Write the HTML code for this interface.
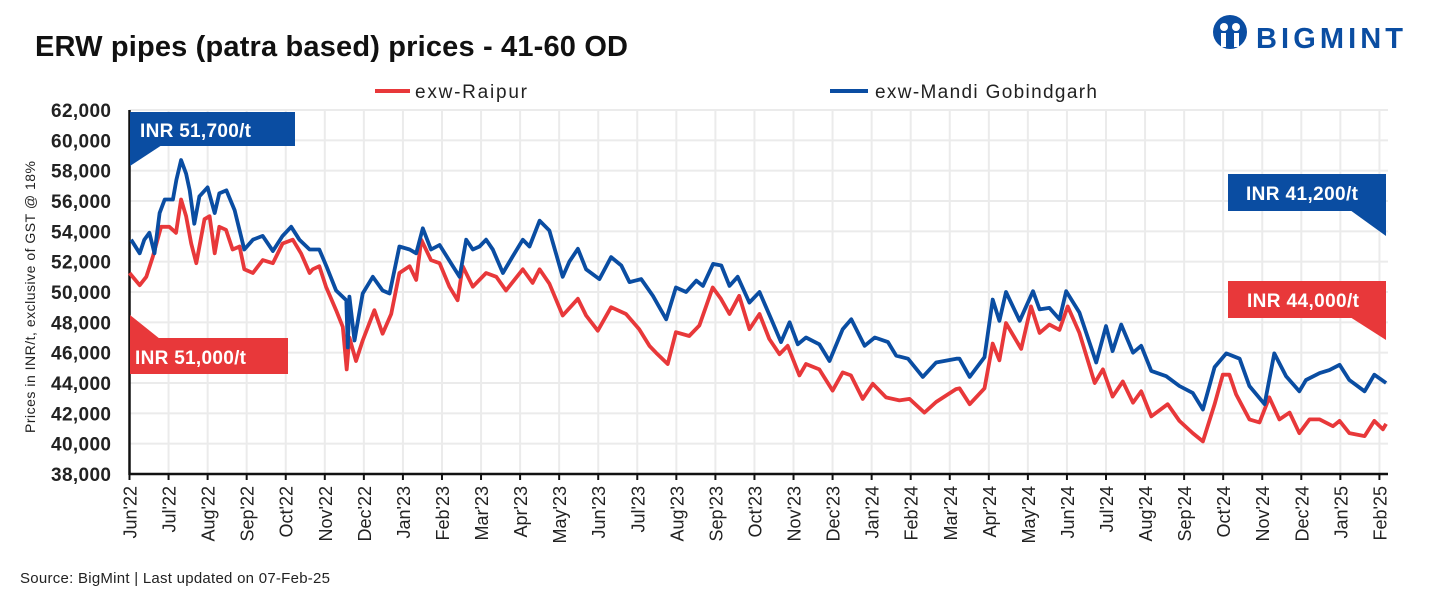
<!DOCTYPE html>
<html><head><meta charset="utf-8"><style>
body{margin:0;background:#fff;width:1430px;height:597px;overflow:hidden;font-family:"Liberation Sans",sans-serif}
</style></head><body>
<svg id="chart" width="1430" height="597" xmlns="http://www.w3.org/2000/svg" font-family="Liberation Sans, sans-serif">
<text x="35" y="56" font-size="29" font-weight="bold" fill="#111" textLength="593">ERW pipes (patra based) prices - 41-60 OD</text>
<g>
<circle cx="1230" cy="32" r="17" fill="#0a4da2"/>
<circle cx="1224" cy="27" r="4" fill="#fff"/><circle cx="1236" cy="27" r="4" fill="#fff"/>
<rect x="1221" y="33" width="5" height="14" fill="#fff"/><rect x="1234" y="33" width="5" height="14" fill="#fff"/>
<text x="1256" y="48" font-size="29" font-weight="bold" fill="#0a4da2" textLength="147">BIGMINT</text>
</g>
<g>
<line x1="375" y1="91" x2="410" y2="91" stroke="#e8383a" stroke-width="4"/>
<text x="415" y="98" font-size="19" fill="#222" textLength="112">exw-Raipur</text>
<line x1="830" y1="91" x2="868" y2="91" stroke="#0a4da2" stroke-width="4"/>
<text x="875" y="98" font-size="19" fill="#222" textLength="222">exw-Mandi Gobindgarh</text>
</g>
<g id="grid"></g>
<g id="axes"></g>
<g id="series"></g>
<g>
<g>
<rect x="130" y="112" width="165" height="34" fill="#0a4da2"/><polygon points="130,145 130,166 162,145" fill="#0a4da2"/>
<text x="140" y="137" font-size="19" font-weight="bold" fill="#fff" textLength="111">INR 51,700/t</text></g>
<g>
<polygon points="130,315 130,339 160,339" fill="#e8383a"/><rect x="130" y="338" width="158" height="36" fill="#e8383a"/>
<text x="135" y="364" font-size="19" font-weight="bold" fill="#fff" textLength="111">INR 51,000/t</text></g>
<g>
<rect x="1228" y="174" width="158" height="37" fill="#0a4da2"/><polygon points="1386,210 1386,236 1350,210" fill="#0a4da2"/>
<text x="1246" y="200" font-size="19" font-weight="bold" fill="#fff" textLength="112">INR 41,200/t</text></g>
<g>
<rect x="1228" y="281" width="158" height="37" fill="#e8383a"/><polygon points="1386,317 1386,340 1350,317" fill="#e8383a"/>
<text x="1247" y="307" font-size="19" font-weight="bold" fill="#fff" textLength="112">INR 44,000/t</text></g>
</g>
<text transform="translate(35,297) rotate(-90)" text-anchor="middle" font-size="14" fill="#222" textLength="272">Prices in INR/t, exclusive of GST @ 18%</text>
<text x="20" y="583" font-size="15" fill="#222" textLength="310">Source: BigMint  | Last updated on 07-Feb-25</text>
</svg>
<script>
const months=["Jun'22","Jul'22","Aug'22","Sep'22","Oct'22","Nov'22","Dec'22","Jan'23","Feb'23","Mar'23","Apr'23","May'23","Jun'23","Jul'23","Aug'23","Sep'23","Oct'23","Nov'23","Dec'23","Jan'24","Feb'24","Mar'24","Apr'24","May'24","Jun'24","Jul'24","Aug'24","Sep'24","Oct'24","Nov'24","Dec'24","Jan'25","Feb'25"];
const yTicks=[38000,40000,42000,44000,46000,48000,50000,52000,54000,56000,58000,60000,62000];
const mandiDates=[0.04,0.26,0.38,0.51,0.64,0.77,0.90,1.11,1.20,1.32,1.45,1.54,1.66,1.79,2.00,2.18,2.30,2.48,2.69,2.94,3.16,3.41,3.67,3.92,4.14,4.35,4.61,4.86,5.04,5.29,5.55,5.59,5.63,5.76,5.97,6.23,6.48,6.66,6.91,7.17,7.34,7.51,7.72,7.94,8.28,8.45,8.62,8.79,8.96,9.13,9.30,9.56,9.81,10.07,10.24,10.50,10.75,11.09,11.26,11.48,11.69,12.03,12.33,12.59,12.80,13.10,13.40,13.74,13.99,14.25,14.51,14.68,14.94,15.15,15.36,15.57,15.87,16.13,16.43,16.68,16.90,17.11,17.32,17.66,17.92,18.26,18.48,18.82,19.08,19.42,19.63,19.93,20.31,20.65,21.17,21.25,21.51,21.89,22.10,22.27,22.44,22.79,23.13,23.30,23.55,23.81,23.98,24.32,24.75,25.00,25.17,25.39,25.69,25.90,26.16,26.54,26.88,27.22,27.48,27.78,28.08,28.42,28.67,29.06,29.31,29.61,29.95,30.12,30.47,30.72,30.98,31.23,31.62,31.87,32.17];
const mandiValues=[53450,52550,53450,53900,52550,55200,56100,56100,57400,58700,57800,56700,54500,56300,56900,55200,56500,56700,55400,52800,53450,53700,52700,53700,54300,53450,52800,52800,51700,50100,49450,46350,49700,46800,49900,51000,50100,49900,53000,52800,52550,54200,52800,53100,51700,51000,53450,52800,53000,53450,52800,51250,52350,53450,53000,54700,54050,51000,52000,52850,51500,50850,52300,51750,50650,50850,49750,48200,50300,50000,50750,50400,51850,51750,50400,51000,49300,50000,48200,46700,48000,46550,47000,46550,45450,47550,48200,46450,47000,46700,45800,45600,44400,45350,45600,45600,44400,45700,49500,48100,50000,48100,50050,48850,48950,48200,50050,48650,45350,47750,46100,47850,46000,46450,44800,44450,43800,43350,42250,45050,45950,45600,43800,42600,45950,44450,43450,44200,44650,44850,45200,44200,43450,44550,44000];
const raipurDates=[0.00,0.26,0.43,0.60,0.81,1.02,1.19,1.32,1.45,1.58,1.71,1.92,2.05,2.18,2.30,2.47,2.64,2.82,2.94,3.16,3.41,3.67,3.92,4.18,4.39,4.61,4.69,4.86,5.03,5.29,5.46,5.56,5.63,5.80,5.97,6.27,6.48,6.70,6.91,7.17,7.34,7.47,7.72,7.94,8.19,8.40,8.53,8.79,9.13,9.39,9.64,10.07,10.32,10.50,10.75,11.09,11.48,11.69,11.99,12.33,12.71,13.05,13.31,13.48,13.78,13.99,14.33,14.59,14.93,15.14,15.36,15.61,15.87,16.13,16.38,16.64,16.85,17.15,17.32,17.66,18.00,18.26,18.47,18.77,19.03,19.37,19.71,19.97,20.35,20.65,21.16,21.25,21.51,21.89,22.10,22.27,22.44,22.83,23.08,23.30,23.55,23.81,24.02,24.32,24.71,24.92,25.17,25.43,25.69,25.90,26.16,26.58,26.88,27.22,27.48,27.78,27.99,28.16,28.33,28.67,28.93,29.18,29.44,29.70,29.95,30.21,30.47,30.81,30.98,31.23,31.62,31.87,32.09,32.17];
const raipurValues=[51250,50450,51000,52350,54300,54300,53900,56100,55000,53200,51900,54800,55000,52550,54300,54100,52800,53000,51500,51250,52100,51900,53200,53450,52550,51250,51500,51700,50350,48800,47700,44900,47000,45450,46800,48800,47250,48550,51250,51700,50800,53450,52100,51900,50350,49450,51700,50350,51250,51000,50100,51500,50600,51500,50550,48450,49550,48450,47450,49000,48550,47550,46450,46000,45250,47350,47100,47800,50300,49550,48550,49750,47550,48550,46900,45900,46450,44500,45250,44900,43500,44700,44500,42950,43950,43050,42850,42950,42050,42750,43600,43650,42600,43650,46600,45500,47950,46250,49050,47300,47850,47500,49050,47300,44000,44900,43100,44100,42700,43450,41800,42600,41500,40700,40150,42600,44550,44550,43250,41600,41400,43050,41600,42050,40700,41600,41600,41150,41500,40700,40500,41500,40950,41300];

const NS="http://www.w3.org/2000/svg";
const X0=129.5,XS=39.06,Y0=474,YMIN=38000,YMAX=62000,YT=110;
function xs(m){return X0+m*XS;}
function ys(v){return Y0-(v-YMIN)/(YMAX-YMIN)*(Y0-YT);}
function mk(tag,attrs,parent){const e=document.createElementNS(NS,tag);for(const k in attrs)e.setAttribute(k,attrs[k]);parent.appendChild(e);return e;}
const grid=document.getElementById('grid'),axes=document.getElementById('axes'),series=document.getElementById('series');
yTicks.forEach(v=>{
  if(v>YMIN){const l=mk('line',{x1:X0,x2:1388,y1:ys(v),y2:ys(v),stroke:'#ebebeb','stroke-width':2},grid);
  
  }
  const t=mk('text',{x:111,y:ys(v)+7,'text-anchor':'end','font-size':19,'font-weight':'bold',fill:'#222',textLength:60},axes);
  t.textContent=v.toLocaleString('en-US');
  
  
});
months.forEach((m,i)=>{
  const x=xs(i);
  if(i>0){const g=mk('line',{x1:x,x2:x,y1:YT,y2:Y0,stroke:'#ebebeb','stroke-width':2},grid);
  
  }
  mk('line',{x1:x,x2:x,y1:Y0,y2:Y0+6,stroke:'#111','stroke-width':2},axes);
  const t=mk('text',{transform:`translate(${x+7},${Y0+12}) rotate(-90)`,'text-anchor':'end','font-size':18,fill:'#222'},axes);
  t.textContent=m;
  
  
});
const ya=mk('line',{x1:X0,x2:X0,y1:YT,y2:Y0+1,stroke:'#111','stroke-width':2.5},axes);


const xa=mk('line',{x1:X0-1,x2:1388,y1:Y0,y2:Y0,stroke:'#111','stroke-width':2.5},axes);


function line(dates,vals,color,name){
  const d=dates.map((m,i)=>(i?'L':'M')+xs(m).toFixed(1)+','+ys(vals[i]).toFixed(1)).join('');
  const p=mk('path',{d:d,fill:'none',stroke:color,'stroke-width':3.8,'stroke-linejoin':'round'},series);
  
  
}
line(raipurDates,raipurValues,'#e8383a','series-raipur-line');
line(mandiDates,mandiValues,'#0a4da2','series-mandi-gobindgarh-line');
</script>
</body></html>
